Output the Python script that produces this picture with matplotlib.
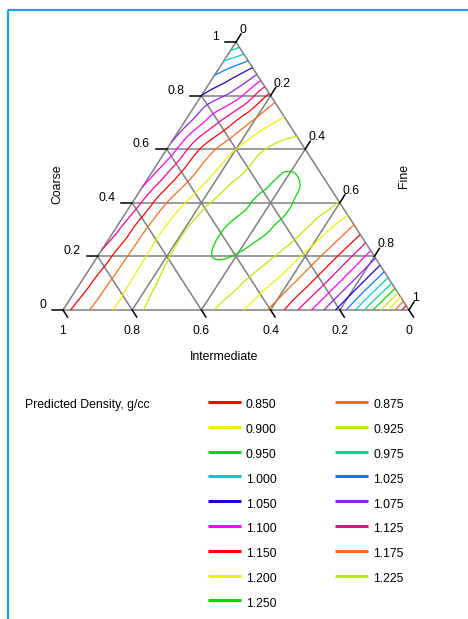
import matplotlib
matplotlib.use('Agg')
import matplotlib.pyplot as plt
import matplotlib.tri as mtri

plt.rcParams['font.family'] = ['Liberation Sans', 'DejaVu Sans']
plt.rcParams['font.size'] = 8.8

# predicted density on a 0.1 simplex lattice: one row per Coarse level,
# entries run over Fine = 0, 0.1, ... (Intermediate is the remainder)
coarse_steps = [0.0, 0.1, 0.2, 0.3, 0.4, 0.5, 0.6, 0.7, 0.8, 0.9, 1.0]
density_rows = [
    [1.140, 1.185, 1.216, 1.238, 1.232, 1.207, 1.171, 1.112, 1.040, 0.946, 0.825],
    [1.134, 1.183, 1.219, 1.241, 1.240, 1.216, 1.183, 1.130, 1.061, 0.975],
    [1.127, 1.182, 1.222, 1.247, 1.249, 1.228, 1.195, 1.146, 1.081],
    [1.117, 1.181, 1.223, 1.248, 1.256, 1.239, 1.208, 1.163],
    [1.107, 1.175, 1.217, 1.241, 1.257, 1.243, 1.223],
    [1.094, 1.161, 1.208, 1.233, 1.252, 1.236],
    [1.078, 1.153, 1.200, 1.228, 1.234],
    [1.064, 1.125, 1.179, 1.209],
    [1.050, 1.089, 1.157],
    [1.015, 1.054],
    [0.955],
]

levels = [0.850, 0.875, 0.900, 0.925, 0.950, 0.975, 1.000, 1.025, 1.050,
          1.075, 1.100, 1.125, 1.150, 1.175, 1.200, 1.225, 1.250]
level_colors = ['#ff0000', '#ff6a10', '#f0f000', '#b8ee00', '#00dd00', '#00d890',
                '#00cccc', '#0080ff', '#2000e0', '#9020f0', '#ff00ff', '#ff0088',
                '#ff0000', '#ff6a10', '#f0f000', '#b8ee00', '#00dd00']
tick_values = [0, 0.2, 0.4, 0.6, 0.8, 1]
tick_labels = ['0', '0.2', '0.4', '0.6', '0.8', '1']
grid_values = [0.2, 0.4, 0.6, 0.8]


def tern(c, f):
    # ternary (Coarse, Fine) -> plot x, y ; Coarse at the top vertex
    return f + c / 2.0, c


# lattice points and triangles
xs, ys, zs, index = [], [], [], {}
for r, c in enumerate(coarse_steps):
    for k, val in enumerate(density_rows[r]):
        x, y = tern(c, k / 10.0)
        index[(r, k)] = len(xs)
        xs.append(x)
        ys.append(y)
        zs.append(val)
triangles = []
for r in range(10):
    n = len(density_rows[r])
    for k in range(n - 1):
        triangles.append([index[(r, k)], index[(r, k + 1)], index[(r + 1, k)]])
    for k in range(n - 2):
        triangles.append([index[(r, k + 1)], index[(r + 1, k + 1)], index[(r + 1, k)]])
tri = mtri.Triangulation(xs, ys, triangles)
interp = mtri.CubicTriInterpolator(tri, zs, kind='geom')
tri_fine, z_fine = mtri.UniformTriRefiner(tri).refine_field(zs, triinterpolator=interp, subdiv=4)

fig = plt.figure(figsize=(4.68, 6.19), dpi=100)

# page overlay in pixel units (frame, titles, legend)
ov = fig.add_axes([0, 0, 1, 1])
ov.set_xlim(0, 468)
ov.set_ylim(619, 0)
ov.axis('off')

ax_w, ax_h = 346, 268
ax = fig.add_axes([63 / 468, (619 - 310) / 619, ax_w / 468, ax_h / 619])
ax.set_xlim(0, 1)
ax.set_ylim(0, 1)
ax.axis('off')
px, py = 1.0 / ax_w, 1.0 / ax_h

grid_kw = dict(color='#808080', lw=1.1, clip_on=False, zorder=1)
# outline
for a, b in [((0, 0), (1, 0)), ((1, 0), (0, 1)), ((0, 1), (0, 0))]:
    p, q = tern(*a), tern(*b)
    ax.plot([p[0], q[0]], [p[1], q[1]], **grid_kw)
# grid: constant Coarse, constant Fine, constant Intermediate
for v in grid_values:
    for a, b in [((v, 0), (v, 1 - v)), ((0, v), (1 - v, v)), ((0, 1 - v), (1 - v, 0))]:
        p, q = tern(*a), tern(*b)
        ax.plot([p[0], q[0]], [p[1], q[1]], **grid_kw)

ax.tricontour(tri_fine, z_fine, levels=levels, colors=level_colors,
              linewidths=0.9, zorder=3)

tick_kw = dict(color='black', lw=1.1, clip_on=False, zorder=4)
for v, lab in zip(tick_values, tick_labels):
    # Coarse, left edge
    x, y = tern(v, 0)
    ax.plot([x, x - 11 * px], [y, y], **tick_kw)
    ax.text(x - 17 * px, y + 5 * py, lab, ha='right', va='center')
    # Fine, right edge
    x, y = tern(1 - v, v)
    ax.plot([x, x + 5 * px], [y, y + 8 * py], **tick_kw)
    ax.text(x + 3 * px, y + 12 * py, lab, ha='left', va='center')
    # Intermediate, bottom edge
    x, y = tern(0, 1 - v)
    ax.plot([x, x + 4.5 * px], [y, y - 7 * py], **tick_kw)
    ax.text(x, y - 21 * py, lab, ha='center', va='center')

ov.text(57.5, 184, 'Coarse', rotation=90, ha='center', va='center')
ov.text(404, 176, 'Fine', rotation=90, ha='center', va='center')
ov.text(224, 357, 'Intermediate', ha='center', va='center')

# frame
ov.plot([8, 8], [619, 9.5], color='#1aa3e3', lw=1.6, solid_capstyle='butt')
ov.plot([8, 468], [9.5, 9.5], color='#1aa3e3', lw=1.6, solid_capstyle='butt')

# legend
ov.text(25, 405, 'Predicted Density, g/cc', ha='left', va='center')
for k, (lev, col) in enumerate(zip(levels, level_colors)):
    row, c = divmod(k, 2)
    x0 = [208, 335][c]
    y = 402 + row * 24.8
    ov.plot([x0, x0 + 33], [y, y], color=col, lw=2.2, solid_capstyle='butt')
    ov.text(x0 + 38, y + 3.5, f'{lev:.3f}', ha='left', va='center')

fig.savefig('out.png', dpi=100)
